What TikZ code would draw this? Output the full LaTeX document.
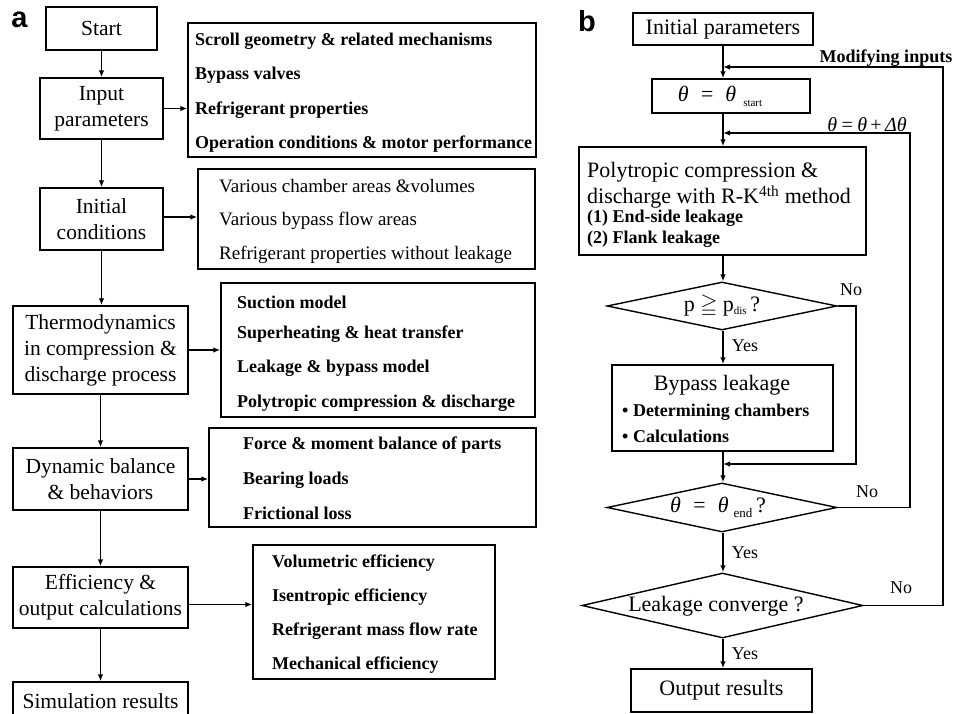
\documentclass[tikz,border=0pt]{standalone}
\usepackage{fontspec}
\setmainfont{Liberation Serif}
\setsansfont{Liberation Sans}
\usepackage{amssymb}
\usetikzlibrary{arrows.meta,shapes.geometric}
\newcommand{\fmain}{\fontsize{21.5}{26}\selectfont}
\newcommand{\fdet}{\fontsize{18}{22}\selectfont\bfseries}
\newcommand{\freg}{\fontsize{19}{22}\selectfont}
\newcommand{\fright}{\fontsize{22}{26}\selectfont}
\newcommand{\flab}{\fontsize{18}{20}\selectfont}
\begin{document}
\begin{tikzpicture}[x=1pt,y=-1pt,
  box/.style={draw, line width=1.4pt, inner sep=0pt, align=center, font=\fmain},
  dbox/.style={draw, line width=1.4pt, inner sep=0pt},
  dline/.style={anchor=west, inner sep=0pt, font=\fdet},
  rline/.style={anchor=west, inner sep=0pt, font=\freg},
  txt/.style={inner sep=0pt, font=\fright},
  arr/.style={line width=1.4pt, -{Latex[length=7pt,width=5.5pt]}},
  dia/.style={draw, diamond, line width=1.4pt, inner sep=0pt},
  lab/.style={inner sep=0pt, font=\flab},
  panel/.style={inner sep=0pt, font=\sffamily\bfseries\fontsize{29}{29}\selectfont}
]
\useasboundingbox (0,0) rectangle (954,714);
\clip (0,0) rectangle (954,714);
\fill[white] (0,0) rectangle (954,714);

% ---------- panel a ----------
\node[panel] (la) at (19.5,20) {a};
\node[box, minimum width=111pt, minimum height=43pt] (start) at (101.5,28.5) {Start};
\node[box, minimum width=123pt, minimum height=61pt] (input) at (101.5,108.5) {Input\\parameters};
\node[box, minimum width=123pt, minimum height=62pt] (init) at (101.5,219) {Initial\\conditions};
\node[box, minimum width=175pt, minimum height=88pt] (thermo) at (100.5,350) {Thermodynamics\\in compression \&\\discharge process};
\node[box, minimum width=175pt, minimum height=62pt] (dyn) at (100.5,479) {Dynamic balance\\\& behaviors};
\node[box, minimum width=175pt, minimum height=61pt] (eff) at (100.5,597.5) {Efficiency \&\\output calculations};
\node[box, minimum width=175pt, minimum height=38pt] (sim) at (100.5,701) {Simulation results};

\node[dbox, minimum width=348pt, minimum height=134pt] (d1) at (362,90) {};
\node[dline] (d1a) at (195,41) {Scroll geometry \& related mechanisms};
\node[dline] (d1b) at (195,75) {Bypass valves};
\node[dline] (d1c) at (195,110) {Refrigerant properties};
\node[dline] (d1d) at (195,144) {Operation conditions \& motor performance};

\node[dbox, minimum width=337pt, minimum height=100pt] (d2) at (366.5,219) {};
\node[rline] (d2a) at (219,186) {Various chamber areas \&volumes};
\node[rline] (d2b) at (219,221) {Various bypass flow areas};
\node[rline] (d2c) at (219,255) {Refrigerant properties without leakage};

\node[dbox, minimum width=314pt, minimum height=134pt] (d3) at (378,350) {};
\node[dline] (d3a) at (237,302) {Suction model};
\node[dline] (d3b) at (237,334) {Superheating \& heat transfer};
\node[dline] (d3c) at (237,368) {Leakage \& bypass model};
\node[dline] (d3d) at (237,403) {Polytropic compression \& discharge};

\node[dbox, minimum width=327pt, minimum height=99pt] (d4) at (372.5,477.5) {};
\node[dline] (d4a) at (243,445) {Force \& moment balance of parts};
\node[dline] (d4b) at (243,480) {Bearing loads};
\node[dline] (d4c) at (243,513) {Frictional loss};

\node[dbox, minimum width=242pt, minimum height=134pt] (d5) at (374,612) {};
\node[dline] (d5a) at (272,563) {Volumetric efficiency};
\node[dline] (d5b) at (272,597) {Isentropic efficiency};
\node[dline] (d5c) at (272,631) {Refrigerant mass flow rate};
\node[dline] (d5d) at (272,665) {Mechanical efficiency};

\draw[arr] (start.south) -- (input.north);
\draw[arr] (input.south) -- (init.north);
\draw[arr] (init.south) -- (init.south |- thermo.north);
\draw[arr] (thermo.south) -- (dyn.north);
\draw[arr] (dyn.south) -- (eff.north);
\draw[arr] (eff.south) -- (sim.north);

\draw[arr] (input.east) -- (input.east -| d1.west);
\draw[arr] ([yshift=2pt]init.east) -- ([yshift=2pt]init.east -| d2.west);
\draw[arr] (thermo.east) -- (thermo.east -| d3.west);
\draw[arr] (dyn.east) -- (dyn.east -| d4.west);
\draw[arr] ([yshift=-7pt]eff.east) -- ([yshift=-7pt]eff.east -| d5.west);

% ---------- panel b ----------
\node[panel] (lb) at (587,21.5) {b};
\node[box, font=\fright, minimum width=180pt, minimum height=32pt] (ip) at (723,29) {Initial parameters};
\node[dbox, minimum width=158pt, minimum height=34pt] (th) at (731,96) {};
\node[txt] (tht) at (720,96) {\itshape θ\ \ =\ \ θ\hspace{7pt}\raisebox{-5pt}{\upshape\fontsize{11}{11}\selectfont start}};

\node[dbox, minimum width=287pt, minimum height=108pt] (poly) at (722.5,201) {};
\node[txt, anchor=west] (p1) at (587,172) {Polytropic compression \&};
\node[txt, anchor=west] (p2) at (587,197) {discharge with R-K\textsuperscript{4th} method};
\node[dline] (p3) at (587,218) {(1) End-side leakage};
\node[dline] (p4) at (587,239) {(2) Flank leakage};

\node[dia, minimum width=230pt, minimum height=48pt] (q1) at (722,306) {};
\node[txt] (q1t) at (722,306) {p $\geqq$ p\raisebox{-3pt}{\fontsize{11}{11}\selectfont dis}\,?};

\node[dbox, minimum width=221pt, minimum height=86pt] (byp) at (722.5,408) {};
\node[txt] (b1) at (722,385) {Bypass leakage};
\node[dline] (b2) at (622,412) {\textbullet\ Determining chambers};
\node[dline] (b3) at (622,436) {\textbullet\ Calculations};

\node[dia, minimum width=230pt, minimum height=49pt] (q2) at (722,507.5) {};
\node[txt] (q2t) at (718,507) {\itshape θ\ \ =\ \ θ\hspace{5pt}\raisebox{-5pt}{\upshape\fontsize{13}{13}\selectfont end}\upshape\,?};

\node[dia, minimum width=281pt, minimum height=65pt] (q3) at (722.5,605.5) {};
\node[txt] (q3t) at (716,606) {Leakage converge ?};

\node[box, font=\fright, minimum width=181pt, minimum height=43pt] (out) at (721.5,690.5) {Output results};

\coordinate (j3) at (723,67);
\coordinate (j2) at (723,133);
\coordinate (j1) at (723,464);
\coordinate (r1) at (856,306);
\coordinate (r2) at (910,507.5);
\coordinate (r3) at (943,605.5);

\draw[arr] (ip.south) -- (ip.south |- th.north);
\draw[arr] (th.south -| ip.south) -- (ip.south |- poly.north);
\draw[arr] (poly.south -| ip.south) -- (ip.south |- q1.north);
\draw[arr] (q1.south -| ip.south) -- (ip.south |- byp.north);
\draw[arr] (byp.south -| ip.south) -- (ip.south |- q2.north);
\draw[arr] (q2.south -| ip.south) -- (ip.south |- q3.north);
\draw[arr] (q3.south -| ip.south) -- (ip.south |- out.north);

\draw[arr] (q1.east) -- (r1) -- (r1 |- j1) -- (j1);
\draw[arr] (q2.east) -- (r2) -- (r2 |- j2) -- (j2);
\draw[arr] (q3.east) -- (r3) -- (r3 |- j3) -- (j3);

\node[lab] (no1) at (851,290) {No};
\node[lab] (no2) at (867,492) {No};
\node[lab] (no3) at (901,588) {No};
\node[lab] (yes1) at (745,346) {Yes};
\node[lab] (yes2) at (745,553) {Yes};
\node[lab] (yes3) at (745,654) {Yes};
\node[inner sep=0pt, font=\fontsize{20}{20}\selectfont\itshape] (inc) at (867,125) {θ\,=\,θ\,\upshape{+}\,\itshape Δθ};
\node[inner sep=0pt, font=\fontsize{18}{20}\selectfont\bfseries] (mod) at (886,58) {Modifying inputs};
\end{tikzpicture}
\end{document}
